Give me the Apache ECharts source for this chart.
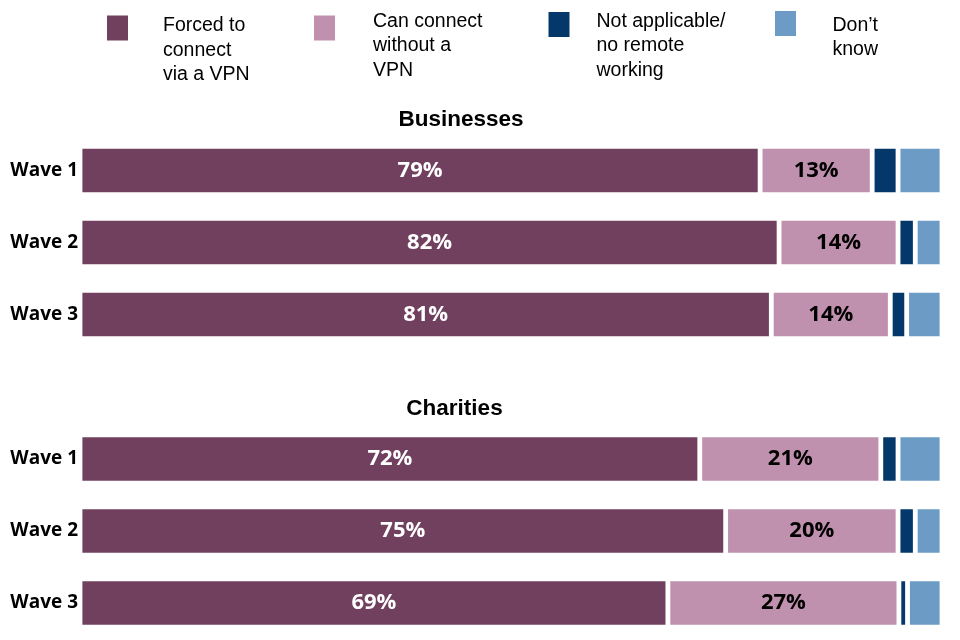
<!DOCTYPE html>
<html>
<head>
<meta charset="utf-8">
<script src="https://cdn.jsdelivr.net/npm/echarts@6/dist/echarts.min.js"></script>
<style>html,body{margin:0;padding:0;background:#fff}#c{width:960px;height:640px}</style>
</head>
<body>
<div id="c"></div>
<script>
// ---- data ----
const categories = ['Wave 1', 'Wave 2', 'Wave 3'];
const seriesNames = ['Forced to connect via a VPN', 'Can connect without a VPN', 'Not applicable/ no remote working', "Don\u2019t know"];
const legendLines = [['Forced to', 'connect', 'via a VPN'], ['Can connect', 'without a', 'VPN'], ['Not applicable/', 'no remote', 'working'], ['Don\u2019t', 'know']];
const panelTitles = ['Businesses', 'Charities'];

const busForced = [78.9, 81.1, 80.2];
const busCan = [13.0, 13.8, 13.8];
const busNA = [3.0, 2.0, 1.9];
const busDK = [5.1, 3.1, 4.1];
const busForcedLabels = ['79%', '82%', '81%'];
const busCanLabels = ['13%', '14%', '14%'];

const chaForced = [71.9, 74.9, 68.2];
const chaCan = [21.0, 20.0, 26.8];
const chaNA = [2.0, 2.0, 1.0];
const chaDK = [5.1, 3.1, 4.0];
const chaForcedLabels = ['72%', '75%', '69%'];
const chaCanLabels = ['21%', '20%', '27%'];

const colors = ['#71405E', '#C091AE', '#04386B', '#6C9BC6'];

// ---- chart ----
const chart = echarts.init(document.getElementById('c'), null, {renderer: 'canvas'});

function makeSeries(gridIdx, arrays, labelArrs) {
  return arrays.map((arr, i) => ({
    name: seriesNames[i],
    type: 'bar',
    stack: 'g' + gridIdx,
    xAxisIndex: gridIdx,
    yAxisIndex: gridIdx,
    barWidth: 48.5,
    data: arr,
    itemStyle: {color: colors[i], borderColor: '#ffffff', borderWidth: 2.4},
    label: {
      show: i < 2,
      position: 'inside',
      color: i === 0 ? '#ffffff' : '#000000',
      fontFamily: 'Open Sans',
      fontWeight: 'bold',
      fontSize: 22,
      formatter: p => (labelArrs[i] ? labelArrs[i][p.dataIndex] : '')
    },
    emphasis: {disabled: true},
    silent: true
  }));
}

const grids = [
  {left: 80, right: 18, top: 134.5, height: 216},
  {left: 80, right: 18, top: 423, height: 216}
];

const xAxes = grids.map((g, i) => ({
  type: 'value', gridIndex: i, min: 0, max: 100, show: false
}));
const yAxes = grids.map((g, i) => ({
  type: 'category', gridIndex: i, data: categories, inverse: true,
  axisLine: {show: false}, axisTick: {show: false}, splitLine: {show: false},
  axisLabel: {margin: 2, color: '#000', fontFamily: 'Open Sans', fontWeight: 'bold', fontSize: 19}
}));

// legend as graphic
const legendRects = [
  {x: 107, y: 15.5, w: 21, h: 25},
  {x: 314, y: 15.5, w: 21, h: 25},
  {x: 548.5, y: 12, w: 21, h: 25},
  {x: 775, y: 11, w: 21, h: 25}
];
const legendText = [
  {x: 163, y: 13.5},
  {x: 373, y: 9},
  {x: 596.5, y: 9},
  {x: 832.5, y: 13}
];
const graphic = [];
legendRects.forEach((r, i) => {
  graphic.push({type: 'rect', shape: {x: r.x, y: r.y, width: r.w, height: r.h}, style: {fill: colors[i]}, silent: true});
  graphic.push({type: 'text', x: legendText[i].x, y: legendText[i].y,
    style: {text: legendLines[i].join('\n'), fill: '#000', font: '19.5px "Liberation Sans", Arial, sans-serif', lineHeight: 24.5, verticalAlign: 'top', align: 'left'}, silent: true});
});
graphic.push({type: 'text', x: 461, y: 120, style: {text: panelTitles[0], fill: '#000', font: 'bold 22.5px "Liberation Sans", Arial, sans-serif', align: 'center', verticalAlign: 'middle'}, silent: true});
graphic.push({type: 'text', x: 454.5, y: 409, style: {text: panelTitles[1], fill: '#000', font: 'bold 22.5px "Liberation Sans", Arial, sans-serif', align: 'center', verticalAlign: 'middle'}, silent: true});

chart.setOption({
  animation: false,
  backgroundColor: '#ffffff',
  grid: grids,
  xAxis: xAxes,
  yAxis: yAxes,
  graphic: graphic,
  series: [
    ...makeSeries(0, [busForced, busCan, busNA, busDK], [busForcedLabels, busCanLabels]),
    ...makeSeries(1, [chaForced, chaCan, chaNA, chaDK], [chaForcedLabels, chaCanLabels])
  ]
});
</script>
</body>
</html>
